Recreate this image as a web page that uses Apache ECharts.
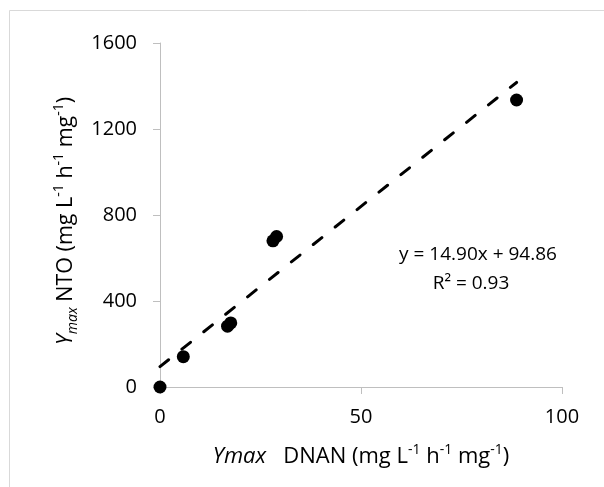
<!DOCTYPE html>
<html>
<head>
<meta charset="utf-8">
<script src="https://cdn.jsdelivr.net/npm/echarts@6/dist/echarts.min.js"></script>
<style>
  html, body { margin: 0; padding: 0; background: #fff; }
  #chart { width: 604px; height: 487px; }
</style>
</head>
<body>
<div id="chart"></div>
<script>
// Ymax of DNAN (x) against Ymax of NTO (y)
const dnanYmax = [0, 5.8, 16.8, 17.6, 28.1, 29.0, 88.7];
const ntoYmax = [0, 141, 283, 298, 680, 700, 1335];

// Linear fit shown on the chart
const fitSlope = 14.90;
const fitIntercept = 94.86;
const fitR2 = 0.93;

// Axis ticks
const xTicks = [0, 50, 100];
const yTicks = [0, 400, 800, 1200, 1600];

const FONT = 'Open Sans';

const points = dnanYmax.map((x, i) => [x, ntoYmax[i]]);
const xLo = Math.min(...dnanYmax);
const xHi = Math.max(...dnanYmax);
const fitLine = [xLo, xHi].map(x => [x, fitSlope * x + fitIntercept]);

function titleRich(size) {
  const base = { fontFamily: FONT, fontSize: size, lineHeight: 28, color: '#000', verticalAlign: 'middle' };
  return {
    i: Object.assign({}, base, { fontStyle: 'italic' }),
    s: { fontFamily: FONT, fontSize: 14, verticalAlign: 'top', lineHeight: 28, color: '#000' },
    b: { fontFamily: FONT, fontSize: 14, verticalAlign: 'bottom', lineHeight: 28, color: '#000', fontStyle: 'italic' }
  };
}

const chart = echarts.init(document.getElementById('chart'), null, { renderer: 'canvas' });

chart.setOption({
  backgroundColor: '#fff',
  animation: false,
  grid: { left: 160, right: 42, top: 43, bottom: 100 },
  xAxis: {
    type: 'value',
    min: xTicks[0],
    max: xTicks[xTicks.length - 1],
    interval: xTicks[1] - xTicks[0],
    splitLine: { show: false },
    axisLine: { show: true, lineStyle: { color: '#bfbfbf', width: 1 } },
    axisTick: { show: true, length: 7, lineStyle: { color: '#bfbfbf' } },
    axisLabel: { fontFamily: FONT, fontSize: 20, color: '#000', margin: 20, formatter: v => String(v) },
    name: '{i|Ymax}   DNAN (mg L{s|-1} h{s|-1} mg{s|-1})',
    nameLocation: 'middle',
    nameGap: 56,
    nameTextStyle: {
      fontFamily: FONT, fontSize: 22, color: '#000',
      rich: titleRich(22)
    }
  },
  yAxis: {
    type: 'value',
    min: yTicks[0],
    max: yTicks[yTicks.length - 1],
    interval: yTicks[1] - yTicks[0],
    splitLine: { show: false },
    axisLine: { show: true, lineStyle: { color: '#bfbfbf', width: 1 } },
    axisTick: { show: true, length: 7, lineStyle: { color: '#bfbfbf' } },
    axisLabel: { fontFamily: FONT, fontSize: 20, color: '#000', margin: 23, formatter: v => String(v) },
    name: '{i|Y}{b|max} NTO (mg L{s|-1} h{s|-1} mg{s|-1})',
    nameLocation: 'middle',
    nameGap: 80,
    nameRotate: 90,
    nameTextStyle: {
      fontFamily: FONT, fontSize: 21.5, color: '#000',
      padding: [0, 12, 0, 0],
      rich: titleRich(21.5)
    }
  },
  series: [
    {
      type: 'line',
      data: fitLine,
      symbol: 'none',
      silent: true,
      z: 2,
      lineStyle: { color: '#000', width: 3, type: [11, 17], cap: 'round' }
    },
    {
      type: 'scatter',
      data: points,
      symbol: 'circle',
      symbolSize: 13,
      z: 3,
      itemStyle: { color: '#000', opacity: 1 }
    }
  ],
  graphic: [
    {
      type: 'rect',
      silent: true,
      shape: { x: 9.5, y: 10.5, width: 700, height: 600 },
      style: { fill: null, stroke: '#d9d9d9', lineWidth: 1 },
      z: -10
    },
    {
      type: 'text',
      silent: true,
      x: 478, y: 255,
      style: {
        text: 'y = ' + fitSlope.toFixed(2) + 'x + ' + fitIntercept.toFixed(2),
        fontFamily: FONT, fontSize: 19, fill: '#000',
        align: 'center', verticalAlign: 'middle'
      }
    },
    {
      type: 'text',
      silent: true,
      x: 471, y: 284,
      style: {
        text: 'R² = ' + fitR2.toFixed(2),
        fontFamily: FONT, fontSize: 19, fill: '#000',
        align: 'center', verticalAlign: 'middle'
      }
    }
  ]
});
</script>
</body>
</html>
